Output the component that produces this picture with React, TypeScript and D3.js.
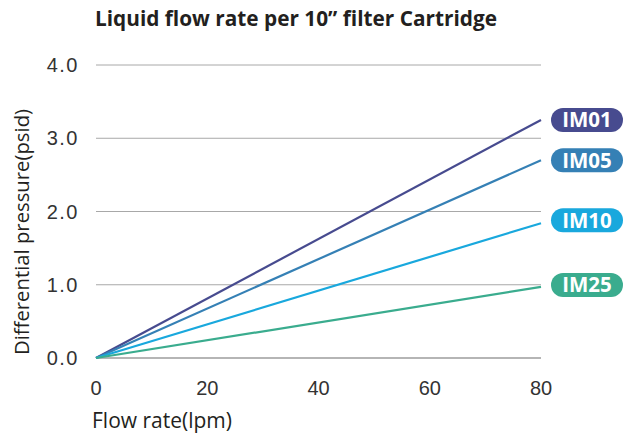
import * as d3 from "d3";

const flowRates = [0, 80];
const seriesNames = ["IM01", "IM05", "IM10", "IM25"];
const im01 = [0, 3.25];
const im05 = [0, 2.7];
const im10 = [0, 1.84];
const im25 = [0, 0.97];
const seriesColors = ["#474b8f", "#3580b5", "#19a8dd", "#3aac8e"];
// small vertical nudge of each tag relative to its line end
const tagNudge = [0, 0, -3, -2];
const xTicks = [0, 20, 40, 60, 80];
const yTicks = [0, 1, 2, 3, 4];

const width = 623;
const height = 435;

const App = () => {
  const x = d3.scaleLinear().domain([0, 80]).range([96, 541]);
  const y = d3.scaleLinear().domain([0, 4]).range([358, 65]);
  const allSeries = [im01, im05, im10, im25];

  const line = d3
    .line<[number, number]>()
    .x((d) => x(d[0]))
    .y((d) => y(d[1]));

  const tickFont = "Liberation Sans, Arial, sans-serif";
  const labelFont = "Open Sans, Noto Sans, sans-serif";

  return (
    <svg
      width={width}
      height={height}
      style={{ position: "absolute", left: 0, top: 0, background: "#fff" }}
    >
      <text
        x={95}
        y={26}
        fontFamily={labelFont}
        fontWeight={700}
        fontSize={20.8}
        fill="#231f20"
      >
        Liquid flow rate per 10” filter Cartridge
      </text>

      {yTicks.map((t) => (
        <g key={t}>
          <line
            x1={x(0)}
            x2={x(80)}
            y1={y(t)}
            y2={y(t)}
            stroke={t === 0 ? "#b5b5b5" : "#a8a8a8"}
            strokeWidth={t === 0 ? 2 : 1}
          />
          <text
            x={79}
            y={y(t)}
            dy="0.36em"
            textAnchor="end"
            fontFamily={tickFont}
            fontSize={20}
            letterSpacing={1.5}
            fill="#333"
          >
            {t.toFixed(1)}
          </text>
        </g>
      ))}

      {xTicks.map((t) => (
        <text
          key={t}
          x={x(t)}
          y={395}
          textAnchor="middle"
          fontFamily={tickFont}
          fontSize={20}
          fill="#333"
        >
          {t}
        </text>
      ))}

      <text
        x={92}
        y={428}
        fontFamily={labelFont}
        fontSize={21}
        fill="#231f20"
      >
        Flow rate(lpm)
      </text>
      <text
        transform={`translate(29,232) rotate(-90)`}
        textAnchor="middle"
        fontFamily={labelFont}
        fontSize={20.3}
        fill="#231f20"
      >
        Differential pressure(psid)
      </text>

      {allSeries.map((vals, i) => {
        const pts = flowRates.map((f, j) => [f, vals[j]] as [number, number]);
        const tagY = y(vals[vals.length - 1]) + tagNudge[i];
        return (
          <g key={seriesNames[i]}>
            <path
              d={line(pts) ?? ""}
              fill="none"
              stroke={seriesColors[i]}
              strokeWidth={2.2}
            />
            <rect
              x={551}
              y={tagY - 12}
              width={72}
              height={24}
              rx={12}
              fill={seriesColors[i]}
            />
            <text
              x={587}
              y={tagY}
              dy="0.36em"
              textAnchor="middle"
              fontFamily={labelFont}
              fontWeight={700}
              fontSize={20.5}
              fill="#fff"
            >
              {seriesNames[i]}
            </text>
          </g>
        );
      })}
    </svg>
  );
};

export default App;
